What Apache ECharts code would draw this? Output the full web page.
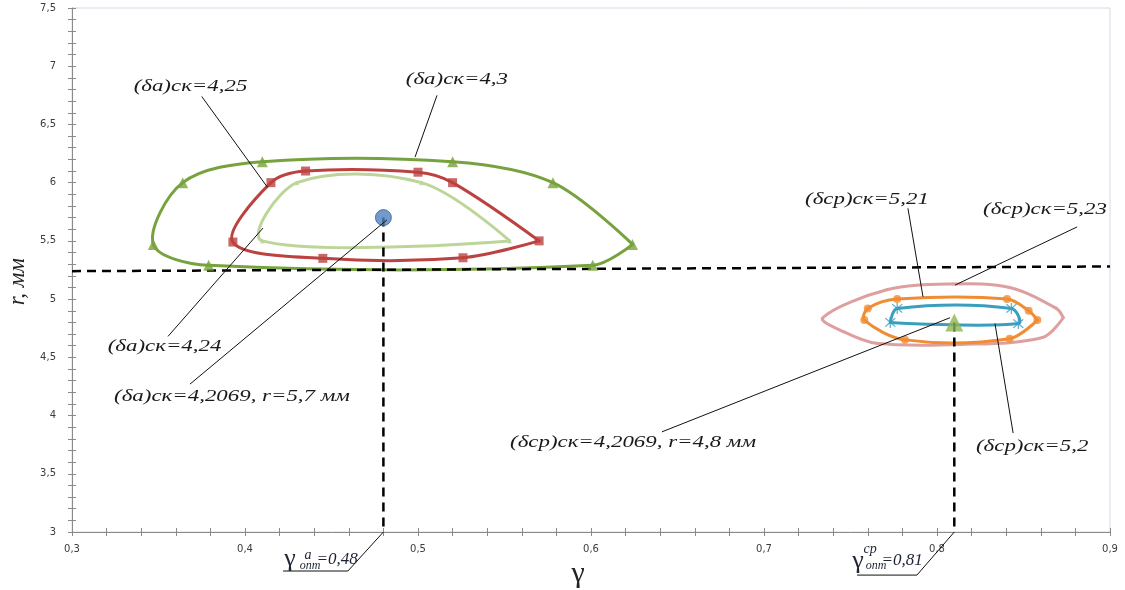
<!DOCTYPE html>
<html>
<head>
<meta charset="utf-8">
<script src="https://cdn.jsdelivr.net/npm/echarts@6/dist/echarts.min.js"></script>
<style>
  html, body { margin: 0; padding: 0; background: #fff; }
  #chart { width: 1125px; height: 590px; }
</style>
</head>
<body>
<div id="chart"></div>
<script>
// ---- data: γ (x) and r, мм (y) ----
// (δа)ск = 4,3 contour
const contourA43 = [[0.624, 5.47], [0.601, 5.29], [0.379, 5.29], [0.347, 5.47], [0.364, 6.0], [0.41, 6.18], [0.52, 6.18], [0.578, 6.0], [0.624, 5.47]];
// (δа)ск = 4,25 contour
const contourA425 = [[0.57, 5.5], [0.526, 5.355], [0.445, 5.35], [0.393, 5.49], [0.415, 6.0], [0.435, 6.1], [0.5, 6.09], [0.52, 6.0], [0.57, 5.5]];
// (δа)ск = 4,24 contour
const contourA424 = [[0.553, 5.5], [0.41, 5.5], [0.43, 6.0], [0.502, 6.0], [0.553, 5.5]];
// (δср)ск = 5,23 contour
const contourCp523 = [[0.873, 4.84], [0.861, 4.67], [0.813, 4.61], [0.765, 4.62], [0.746, 4.72], [0.734, 4.84], [0.771, 5.08], [0.809, 5.13], [0.842, 5.10], [0.869, 4.92], [0.873, 4.84]];
// (δср)ск = 5,21 contour
const contourCp521 = [[0.858, 4.82], [0.842, 4.66], [0.7815, 4.65], [0.758, 4.82], [0.76, 4.92], [0.777, 5.0], [0.8405, 5.0], [0.853, 4.9], [0.858, 4.82]];
// (δср)ск = 5,2 contour
const contourCp52 = [[0.773, 4.8], [0.777, 4.92], [0.843, 4.92], [0.847, 4.79], [0.773, 4.8]];
// optimum points: (δа)ск = 4,2069 and (δср)ск = 4,2069
const optimumA = [0.48, 5.7];
const optimumCp = [0.81, 4.8];
// limiting radius line
const boundaryR = [[0.3, 5.24], [0.9, 5.28]];

// axis ranges and tick steps
const xRange = [0.3, 0.9];
const xStep = 0.1;
const yRange = [3, 7.5];
const yStep = 0.5;

// callout texts
const calloutTexts = [
  '(δа)ск=4,25', '(δа)ск=4,3', '(δа)ск=4,24', '(δа)ск=4,2069, r=5,7 мм',
  '(δср)ск=5,21', '(δср)ск=5,23', '(δср)ск=4,2069, r=4,8 мм', '(δср)ск=5,2'
];

// ---- layout of callouts, in axis units ----
const calloutAt = [
  [0.3685, 6.82], [0.5225, 6.88], [0.3535, 4.59], [0.3925, 4.16],
  [0.7595, 5.85], [0.8624, 5.77], [0.6243, 3.765], [0.855, 3.73]
];
const leaderLines = [
  [[0.375, 6.74], [0.413, 5.96]],
  [[0.511, 6.75], [0.4983, 6.22]],
  [[0.3555, 4.68], [0.4104, 5.61]],
  [[0.3682, 4.27], [0.482, 5.68]],
  [[0.7832, 5.78], [0.7919, 5.02]],
  [[0.881, 5.62], [0.8104, 5.12]],
  [[0.641, 3.86], [0.8075, 4.84]],
  [[0.844, 3.85], [0.8335, 4.79]],
  [[optimumA[0], 3.0], [0.4595, 2.665], [0.422, 2.665]],
  [[optimumCp[0], 3.0], [0.7884, 2.63], [0.7538, 2.63]]
];

const fmt = v => String(+v.toFixed(2)).replace('.', ',');
const SERIF = '"Liberation Serif", "DejaVu Serif", serif';
const SANS = '"DejaVu Sans", Verdana, sans-serif';
const axisColor = '#8a8a8a';

// asterisk marker: vertical bar crossed by an X
const asterisk = 'path://M9,0L11,0L11,20L9,20Z M1.5,3L3,1.5L18.5,17L17,18.5Z M17,1.5L18.5,3L3,18.5L1.5,17Z';

// Cubic Bezier handles through every point (Catmull-Rom style, weighted by segment length).
// The first and last points keep zero-length handles.
function smoothSegments(pts, s) {
  const n = pts.length;
  const handles = pts.map((p, i) => {
    if (i === 0 || i === n - 1) return [p, p];
    const a = pts[i - 1], b = pts[i + 1];
    const vx = (b[0] - a[0]) * s, vy = (b[1] - a[1]) * s;
    let d0 = Math.hypot(p[0] - a[0], p[1] - a[1]);
    let d1 = Math.hypot(p[0] - b[0], p[1] - b[1]);
    const sum = d0 + d1 || 1;
    d0 /= sum; d1 /= sum;
    return [[p[0] - vx * d0, p[1] - vy * d0], [p[0] + vx * d1, p[1] + vy * d1]];
  });
  const segs = [];
  for (let i = 1; i < n; i++) {
    const p0 = pts[i - 1], p1 = pts[i], c1 = handles[i - 1][1], c2 = handles[i][0];
    segs.push({ x1: p0[0], y1: p0[1], cpx1: c1[0], cpy1: c1[1], cpx2: c2[0], cpy2: c2[1], x2: p1[0], y2: p1[1] });
  }
  return segs;
}

function curve(data, color) {
  return {
    type: 'custom', data: [data[0]], z: 3, animation: false, silent: true,
    renderItem: (params, api) => {
      const pts = data.map(p => api.coord(p));
      return {
        type: 'group',
        children: smoothSegments(pts, 1 / 3).map(seg => ({
          type: 'bezierCurve', shape: seg,
          style: { stroke: color, lineWidth: 3, fill: null, lineCap: 'round' }
        }))
      };
    }
  };
}
function markers(data, color, symbol, size) {
  return {
    type: 'scatter', data: data.slice(0, -1), symbol, symbolSize: size, z: 5,
    itemStyle: { color }, silent: true, animation: false
  };
}
function dashed(data) {
  return {
    type: 'line', data, symbol: 'none', z: 4, animation: false, silent: true,
    lineStyle: { color: '#000', width: 2.5, type: [9, 6] }
  };
}

function mainAxis(range, step, isX) {
  return {
    type: 'value', min: range[0], max: range[1], interval: step,
    position: isX ? 'bottom' : 'left',
    axisLine: { show: true, lineStyle: { color: axisColor, width: 1 } },
    axisTick: { show: true, length: 4, lineStyle: { color: axisColor } },
    minorTick: { show: true, splitNumber: 5, length: 4, lineStyle: { color: axisColor } },
    splitLine: { show: false },
    axisLabel: {
      formatter: fmt, color: '#3c3c3c', fontSize: 10, fontFamily: SANS,
      margin: isX ? 12 : 16
    }
  };
}
function innerTicks(range, step, isX) {
  return {
    type: 'value', min: range[0], max: range[1], interval: step,
    position: isX ? 'bottom' : 'left',
    axisLine: { show: false },
    axisTick: { show: true, inside: true, length: 4, lineStyle: { color: axisColor } },
    minorTick: { show: true, splitNumber: 5, length: 4, lineStyle: { color: axisColor } },
    splitLine: { show: false },
    axisLabel: { show: false }
  };
}

const chart = echarts.init(document.getElementById('chart'), null, { renderer: 'canvas' });

chart.setOption({
  animation: false,
  backgroundColor: '#fff',
  grid: { left: 72, right: 15, top: 8, bottom: 58, show: true, borderColor: '#d3dae6', borderWidth: 1 },
  xAxis: [mainAxis(xRange, xStep, true), innerTicks(xRange, xStep, true)],
  yAxis: [mainAxis(yRange, yStep, false), innerTicks(yRange, yStep, false)],
  series: [
    curve(contourCp523, '#dda09e'),
    curve(contourA43, '#77a23d'),
    markers(contourA43, '#77a23d', 'triangle', 11),
    curve(contourA424, '#bdd598'),
    markers(contourA424, '#bdd598', 'triangle', 5),
    curve(contourA425, '#bb4240'),
    markers(contourA425, '#bb4240', 'rect', 9),
    curve(contourCp521, '#f08c32'),
    markers(contourCp521, '#f08c32', 'circle', 8),
    curve(contourCp52, '#3a9fbf'),
    markers(contourCp52, '#3a9fbf', asterisk, 11),
    dashed(boundaryR),
    dashed([optimumA, [optimumA[0], yRange[0]]]),
    dashed([optimumCp, [optimumCp[0], yRange[0]]]),
    {
      type: 'scatter', data: [optimumA], symbol: 'circle', symbolSize: 16, z: 6, silent: true,
      itemStyle: { color: '#4f81bd', borderColor: '#3a6496', borderWidth: 1 }
    },
    {
      type: 'scatter', data: [optimumCp], symbol: 'triangle', symbolSize: 18, z: 6, silent: true,
      itemStyle: { color: '#8fb652' }
    }
  ]
});

// ---- callouts, leader lines and axis names ----
const px = p => chart.convertToPixel({ xAxisIndex: 0, yAxisIndex: 0 }, p);
const graphics = [];

leaderLines.forEach(line => {
  graphics.push({
    type: 'polyline', z: 10, silent: true,
    shape: { points: line.map(px) },
    style: { stroke: '#111', lineWidth: 1, fill: null }
  });
});

calloutTexts.forEach((t, i) => {
  const p = px(calloutAt[i]);
  graphics.push({
    type: 'text', x: p[0], y: p[1], scaleX: 1.43, z: 11, silent: true,
    style: {
      text: t, align: 'center', verticalAlign: 'middle',
      font: 'italic 16px ' + SERIF, fill: '#1a1a1a'
    }
  });
});

// optimum γ labels under the axis
function gammaLabel(anchor, sup, value, offs) {
  const p = px(anchor);
  const parts = [
    { text: 'γ', font: '26px ' + SERIF, o: offs[0] },
    { text: sup, font: 'italic 14px ' + SERIF, o: offs[1] },
    { text: 'опт', font: 'italic 12px ' + SERIF, o: offs[2] },
    { text: value, font: 'italic 17px ' + SERIF, o: offs[3] }
  ];
  parts.forEach(part => {
    graphics.push({
      type: 'text', x: p[0] + part.o[0], y: p[1] + part.o[1], z: 11, silent: true,
      style: { text: part.text, align: 'center', verticalAlign: 'middle', font: part.font, fill: '#1c2333' }
    });
  });
}
gammaLabel([0.422, 2.665], 'а', '=0,48', [[7, -12], [25, -16], [27, -5], [54, -11]]);
gammaLabel([0.7538, 2.63], 'ср', '=0,81', [[1, -14], [13, -26], [19, -9], [45, -15]]);

// axis names
const xn = px([0.5925, 2.64]);
graphics.push({
  type: 'text', x: xn[0], y: xn[1], z: 11, silent: true,
  style: { text: 'γ', align: 'center', verticalAlign: 'middle', font: '30px ' + SERIF, fill: '#222' }
});
const yn = px([0.2688, 5.15]);
graphics.push({
  type: 'text', x: yn[0], y: yn[1], rotation: Math.PI / 2, z: 11, silent: true,
  style: { text: 'r, мм', align: 'center', verticalAlign: 'middle', font: 'italic 23px ' + SERIF, fill: '#222' }
});

chart.setOption({ graphic: graphics });
</script>
</body>
</html>
